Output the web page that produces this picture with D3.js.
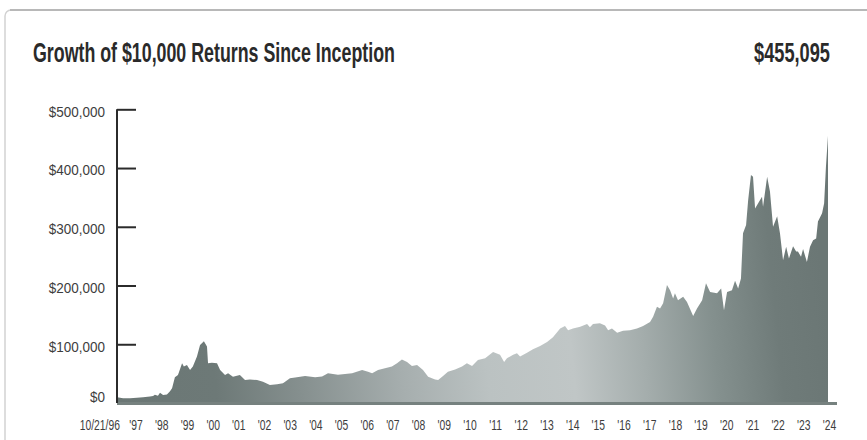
<!DOCTYPE html>
<html>
<head>
<meta charset="utf-8">
<script src="https://cdn.jsdelivr.net/npm/d3@7"></script>
<style>
  html, body { margin: 0; padding: 0; background: #ffffff; }
  svg { display: block; }
  .tick text { fill: #3d3d3d; }
</style>
</head>
<body>
<svg id="chart" width="867" height="440"></svg>
<script>
// Growth of a $10,000 investment, inception 10/21/96.
// Dates are given as decimal years, values in dollars.
const years = [
  1996.81, 1997.04, 1997.31, 1997.58, 1997.82, 1998.09, 1998.21, 1998.28, 1998.40, 1998.48,
  1998.60, 1998.75, 1998.87, 1998.95, 1999.06, 1999.18, 1999.34, 1999.41, 1999.53, 1999.65,
  1999.76, 1999.92, 2000.04, 2000.19, 2000.31, 2000.35, 2000.50, 2000.70, 2000.82, 2001.01,
  2001.13, 2001.32, 2001.59, 2001.79, 2001.98, 2002.26, 2002.49, 2002.76, 2003.04, 2003.27,
  2003.54, 2003.81, 2004.13, 2004.52, 2004.79, 2005.02, 2005.41, 2005.96, 2006.35, 2006.58,
  2006.74, 2006.97, 2007.24, 2007.51, 2007.71, 2007.90, 2008.10, 2008.29, 2008.49, 2008.72,
  2008.92, 2009.19, 2009.31, 2009.50, 2009.69, 2009.97, 2010.24, 2010.43, 2010.63, 2010.86,
  2011.14, 2011.45, 2011.72, 2011.88, 2011.99, 2012.23, 2012.38, 2012.50, 2012.77, 2013.00,
  2013.28, 2013.55, 2013.78, 2014.06, 2014.25, 2014.37, 2014.56, 2014.84, 2015.11, 2015.22,
  2015.34, 2015.61, 2015.81, 2015.93, 2016.08, 2016.28, 2016.51, 2016.78, 2017.05, 2017.29,
  2017.56, 2017.68, 2017.83, 2017.95, 2018.07, 2018.22, 2018.34, 2018.46, 2018.53, 2018.65,
  2018.85, 2019.00, 2019.24, 2019.39, 2019.59, 2019.74, 2019.90, 2020.17, 2020.33, 2020.44,
  2020.56, 2020.75, 2020.87, 2020.99, 2021.10, 2021.18, 2021.30, 2021.38, 2021.49, 2021.57,
  2021.65, 2021.77, 2021.92, 2021.96, 2022.12, 2022.23, 2022.35, 2022.51, 2022.62, 2022.74,
  2022.86, 2022.97, 2023.13, 2023.25, 2023.32, 2023.44, 2023.52, 2023.67, 2023.79, 2023.91,
  2024.03, 2024.10, 2024.26, 2024.34, 2024.41, 2024.49
];
const values = [
  10000, 8200, 8000, 9000, 9700, 11000, 12000, 14000, 12500, 17500,
  13600, 14500, 20000, 25000, 44000, 47700, 67500, 62000, 64700, 56000,
  62000, 79000, 98700, 105000, 96000, 67500, 68600, 67500, 56000, 47700,
  50500, 44800, 47700, 39000, 40000, 39000, 36000, 30600, 32000, 33500,
  42000, 43700, 46000, 44000, 45000, 50500, 48000, 50500, 56000, 53000,
  50500, 56000, 59000, 62000, 67500, 74000, 70000, 63000, 64700, 56000,
  44800, 40000, 39000, 46000, 53000, 57000, 62000, 67500, 63000, 73000,
  76000, 87000, 82000, 70000, 76000, 82000, 84600, 79000, 85600, 91400,
  97000, 104000, 112000, 127000, 131000, 124000, 127000, 130000, 134500, 129000,
  134500, 135600, 132000, 124000, 127000, 119700, 123000, 124000, 127000, 131000,
  138000, 147000, 164000, 161000, 170000, 201000, 192000, 178000, 187000, 175000,
  181000, 172000, 148000, 161000, 175000, 204000, 189000, 187000, 195000, 158000,
  189000, 192000, 208000, 195000, 212000, 289000, 303000, 345000, 388000, 385000,
  331000, 340000, 351000, 334000, 385000, 360000, 300000, 318000, 289000, 243000,
  266000, 246000, 267000, 258000, 258000, 249000, 262000, 240000, 266000, 277000,
  280000, 309000, 323000, 340000, 402000, 455095
];

const title = "Growth of $10,000 Returns Since Inception";
const endingValue = "$455,095";
const yTicks = [0, 100000, 200000, 300000, 400000, 500000];
const yearLabels = ["'97", "'98", "'99", "'00", "'01", "'02", "'03", "'04", "'05", "'06",
  "'07", "'08", "'09", "'10", "'11", "'12", "'13", "'14", "'15", "'16", "'17", "'18",
  "'19", "'20", "'21", "'22", "'23", "'24"];
const inceptionLabel = "10/21/96";

function yearToDate(y) {
  const yr = Math.floor(y);
  const a = new Date(yr, 0, 1), b = new Date(yr + 1, 0, 1);
  return new Date(+a + (y - yr) * (b - a));
}

const data = years.map((y, i) => ({ date: yearToDate(y), value: values[i] }));

const svg = d3.select("#chart");
const FONT = "'Liberation Sans Narrow', 'Liberation Sans', Arial, sans-serif";

// Condensed lettering: a horizontal scale on each text's own group
function condensedText(parent, px, py, str, opts) {
  const g = parent.append("g").attr("transform", `translate(${px},${py})`);
  const t = g.append("text")
    .attr("font-family", FONT)
    .attr("font-size", opts.size)
    .attr("font-weight", opts.weight || "normal")
    .attr("fill", opts.fill || "#3d3d3d")
    .attr("text-anchor", opts.anchor || "start")
    .text(str);
  const natural = t.node().getComputedTextLength();
  const sx = opts.width ? opts.width / natural : opts.squeeze;
  t.attr("transform", `scale(${sx},1)`);
  return t;
}

// Card frame
svg.append("rect")
  .attr("x", 5).attr("y", 10)
  .attr("width", 900).attr("height", 460)
  .attr("rx", 6)
  .attr("fill", "#ffffff")
  .attr("stroke", "#d2d2d2")
  .attr("stroke-width", 1.5);
svg.append("line")
  .attr("x1", 10).attr("x2", 867).attr("y1", 10).attr("y2", 10)
  .attr("stroke", "#b8b8b8").attr("stroke-width", 2);

// Header
condensedText(svg, 33, 62, title, { size: 28, weight: "bold", fill: "#2a2a2a", width: 362 });
condensedText(svg, 830, 62, endingValue, { size: 28, weight: "bold", fill: "#2a2a2a", width: 76, anchor: "end" });

// Scales
const x = d3.scaleTime()
  .domain([yearToDate(1996.805), yearToDate(2024.49)])
  .range([117, 828]);
const y = d3.scaleLinear()
  .domain([0, 500000])
  .range([403, 109.3]);

// Fill gradient: dark at both ends, pale in the middle years
const defs = svg.append("defs");
const grad = defs.append("linearGradient")
  .attr("id", "areaFill")
  .attr("gradientUnits", "userSpaceOnUse")
  .attr("x1", 117).attr("y1", 403)
  .attr("x2", 828).attr("y2", 330);
[
  [0.00, "#6b7775"], [0.14, "#6d7977"], [0.26, "#86908f"], [0.40, "#a6aeae"],
  [0.52, "#bbc2c2"], [0.64, "#c0c6c6"], [0.74, "#a4adac"], [0.84, "#84908e"],
  [0.93, "#6f7b79"], [1.00, "#6b7775"]
].forEach(([o, c]) => grad.append("stop").attr("offset", o).attr("stop-color", c));

const area = d3.area()
  .x(d => x(d.date))
  .y0(y(0))
  .y1(d => y(d.value));

svg.append("path")
  .datum(data)
  .attr("d", area)
  .attr("fill", "url(#areaFill)");

// Baseline bar
svg.append("line")
  .attr("x1", 117).attr("x2", 837)
  .attr("y1", y(0) + 0.5).attr("y2", y(0) + 0.5)
  .attr("stroke", "#76817f").attr("stroke-width", 3);

// Y axis: ticks point into the plot, labels sit to the left
const yAxis = svg.append("g")
  .attr("transform", "translate(117,0)")
  .call(d3.axisLeft(y).tickValues(yTicks).tickSize(-19).tickPadding(12)
    .tickFormat(d => "$" + d3.format(",")(d)));
yAxis.select(".domain").attr("stroke", "#2b2b2b").attr("stroke-width", 2)
  .attr("d", `M0,${y(500000)}V${y(0)}`);
yAxis.selectAll(".tick line").attr("stroke", "#2b2b2b").attr("stroke-width", 2)
  .attr("display", d => d === 0 ? "none" : null);
const ySqueeze = 0.9;
yAxis.selectAll(".tick text")
  .attr("font-family", FONT).attr("font-size", 15)
  .attr("dy", "0.32em")
  .attr("x", -12 / ySqueeze)
  .attr("y", d => d === 0 ? -6 : 2)
  .attr("transform", `scale(${ySqueeze},1)`);

// X axis labels, centred on each year's midpoint
const xg = svg.append("g");
yearLabels.forEach((lab, i) => {
  condensedText(xg, x(new Date(1997 + i, 6, 20)), 430, lab, { size: 14, squeeze: 0.74, anchor: "middle" });
});
condensedText(xg, x(yearToDate(1996.805)) + 3, 430, inceptionLabel, { size: 14, squeeze: 0.74, anchor: "end" });
</script>
</body>
</html>
